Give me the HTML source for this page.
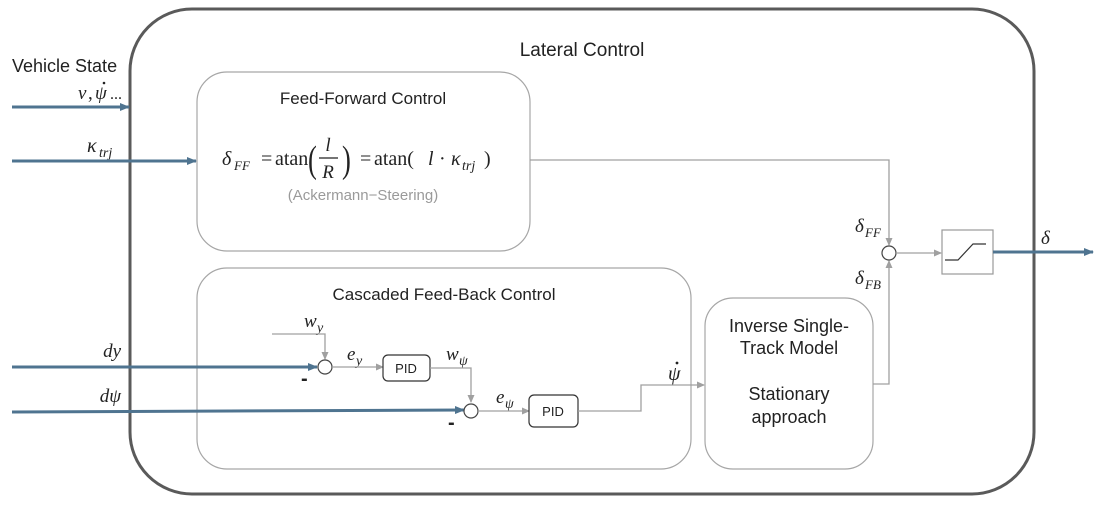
<!DOCTYPE html>
<html><head><meta charset="utf-8"><style>
html,body{margin:0;padding:0;background:#fff;}
svg{display:block;}
text{font-family:"Liberation Sans",sans-serif;fill:#222;}
.m{font-family:"Liberation Serif",serif;font-style:italic;}
.s{font-family:"Liberation Serif",serif;}
</style></head><body>
<svg width="1103" height="505" viewBox="0 0 1103 505">
<defs>
<marker id="ab" markerWidth="10" markerHeight="8" refX="9" refY="4" orient="auto" markerUnits="userSpaceOnUse"><path d="M0,0 L10,4 L0,8 z" fill="#4f7490"/></marker>
<marker id="ag" markerWidth="8" markerHeight="7" refX="7" refY="3.5" orient="auto" markerUnits="userSpaceOnUse"><path d="M0,0 L8,3.5 L0,7 z" fill="#a0a0a0"/></marker>
</defs>
<rect x="130" y="9" width="904" height="485" rx="62" fill="#fff" stroke="#5a5a5a" stroke-width="3"/>
<text x="582" y="56" font-size="19" text-anchor="middle">Lateral Control</text>

<rect x="197" y="72" width="333" height="179" rx="30" fill="#fff" stroke="#a6a6a6" stroke-width="1.2"/>
<text x="363" y="104" font-size="17" text-anchor="middle">Feed-Forward Control</text>
<text x="222" y="165" font-size="20" class="m">δ</text>
<text x="234" y="170" font-size="13" class="m">FF</text>
<text x="261" y="165" font-size="20" class="s">=</text>
<text x="275" y="165" font-size="20" class="s">atan</text>
<text x="308" y="172" font-size="38" class="s" transform="translate(308,0) scale(0.7,1) translate(-308,0)">(</text>
<text x="328" y="151" font-size="19" class="m" text-anchor="middle">l</text>
<line x1="319" y1="158" x2="338" y2="158" stroke="#222" stroke-width="1.2"/>
<text x="328" y="178" font-size="19" class="m" text-anchor="middle">R</text>
<text x="342" y="172" font-size="38" class="s" transform="translate(342,0) scale(0.7,1) translate(-342,0)">)</text>
<text x="360" y="165" font-size="20" class="s">=</text>
<text x="374" y="165" font-size="20" class="s">atan(</text>
<text x="428" y="165" font-size="20" class="m">l</text>
<text x="439" y="165" font-size="20" class="s">·</text>
<text x="451" y="165" font-size="20" class="m">κ</text>
<text x="462" y="170" font-size="14" class="m">trj</text>
<text x="484" y="165" font-size="20" class="s">)</text>
<text x="363" y="200" font-size="15" text-anchor="middle" style="fill:#9a9a9a">(Ackermann−Steering)</text>

<rect x="197" y="268" width="494" height="201" rx="30" fill="#fff" stroke="#a6a6a6" stroke-width="1.2"/>
<text x="444" y="300" font-size="17" text-anchor="middle">Cascaded Feed-Back Control</text>

<rect x="705" y="298" width="168" height="171" rx="28" fill="#fff" stroke="#a6a6a6" stroke-width="1.2"/>
<text x="789" y="332" font-size="18" text-anchor="middle">Inverse Single-</text>
<text x="789" y="354" font-size="18" text-anchor="middle">Track Model</text>
<text x="789" y="400" font-size="18" text-anchor="middle">Stationary</text>
<text x="789" y="423" font-size="18" text-anchor="middle">approach</text>

<text x="12" y="72" font-size="18">Vehicle State</text>
<text x="78" y="99" font-size="19" class="m">v</text>
<text x="88" y="99" font-size="19" class="s">,</text>
<text x="95" y="99" font-size="19" class="m">ψ</text>
<circle cx="104" cy="83" r="1.3" fill="#222"/>
<text x="110" y="99" font-size="16" class="s">...</text>
<line x1="12" y1="107" x2="129" y2="107" stroke="#4f7490" stroke-width="3" marker-end="url(#ab)"/>
<text x="87" y="152" font-size="20" class="m">κ</text>
<text x="99" y="157" font-size="14" class="m">trj</text>
<line x1="12" y1="161" x2="196" y2="161" stroke="#4f7490" stroke-width="3" marker-end="url(#ab)"/>
<text x="121" y="357" font-size="19" class="m" text-anchor="end">dy</text>
<line x1="12" y1="367" x2="317" y2="367" stroke="#4f7490" stroke-width="3" marker-end="url(#ab)"/>
<text x="121" y="402" font-size="19" class="m" text-anchor="end">dψ</text>
<line x1="12" y1="412" x2="464" y2="410" stroke="#4f7490" stroke-width="3" marker-end="url(#ab)"/>

<text x="304" y="327" font-size="19" class="m">w</text>
<text x="317" y="332" font-size="14" class="m">y</text>
<polyline points="272,334 325,334 325,359" fill="none" stroke="#a0a0a0" stroke-width="1.3" marker-end="url(#ag)"/>
<circle cx="325" cy="367" r="7" fill="#fff" stroke="#444" stroke-width="1.2"/>
<text x="301" y="385" font-size="20" font-weight="bold">-</text>
<text x="347" y="360" font-size="19" class="m">e</text>
<text x="356" y="365" font-size="14" class="m">y</text>
<line x1="332" y1="367" x2="383" y2="367" stroke="#a0a0a0" stroke-width="1.3" marker-end="url(#ag)"/>
<rect x="383" y="355" width="47" height="26" rx="5" fill="#fff" stroke="#333" stroke-width="1.2"/>
<text x="406" y="373" font-size="13" text-anchor="middle">PID</text>
<text x="446" y="360" font-size="19" class="m">w</text>
<text x="459" y="365" font-size="14" class="m">ψ</text>
<polyline points="430,368 471,368 471,402" fill="none" stroke="#a0a0a0" stroke-width="1.3" marker-end="url(#ag)"/>
<circle cx="471" cy="411" r="7" fill="#fff" stroke="#444" stroke-width="1.2"/>
<text x="448" y="429" font-size="20" font-weight="bold">-</text>
<text x="496" y="403" font-size="19" class="m">e</text>
<text x="505" y="408" font-size="14" class="m">ψ</text>
<line x1="478" y1="411" x2="529" y2="411" stroke="#a0a0a0" stroke-width="1.3" marker-end="url(#ag)"/>
<rect x="529" y="395" width="49" height="32" rx="5" fill="#fff" stroke="#333" stroke-width="1.2"/>
<text x="553" y="416" font-size="13" text-anchor="middle">PID</text>
<text x="668" y="380" font-size="20" class="m">ψ</text>
<circle cx="677" cy="363" r="1.4" fill="#222"/>
<polyline points="578,411 641,411 641,385 704,385" fill="none" stroke="#a0a0a0" stroke-width="1.3" marker-end="url(#ag)"/>

<polyline points="530,160 889,160 889,245" fill="none" stroke="#a0a0a0" stroke-width="1.3" marker-end="url(#ag)"/>
<polyline points="873,384 889,384 889,261" fill="none" stroke="#a0a0a0" stroke-width="1.3" marker-end="url(#ag)"/>
<circle cx="889" cy="253" r="7" fill="#fff" stroke="#444" stroke-width="1.2"/>
<text x="855" y="232" font-size="19" class="m">δ</text>
<text x="865" y="237" font-size="13" class="m">FF</text>
<text x="855" y="284" font-size="19" class="m">δ</text>
<text x="865" y="289" font-size="13" class="m">FB</text>
<line x1="896" y1="253" x2="941" y2="253" stroke="#a0a0a0" stroke-width="1.3" marker-end="url(#ag)"/>
<rect x="942" y="230" width="51" height="44" fill="#fff" stroke="#999" stroke-width="1.2"/>
<polyline points="945,260 958,260 973,244 986,244" fill="none" stroke="#333" stroke-width="1.2"/>
<line x1="993" y1="252" x2="1093" y2="252" stroke="#4f7490" stroke-width="3" marker-end="url(#ab)"/>
<text x="1041" y="244" font-size="19" class="m">δ</text>
</svg>
</body></html>
